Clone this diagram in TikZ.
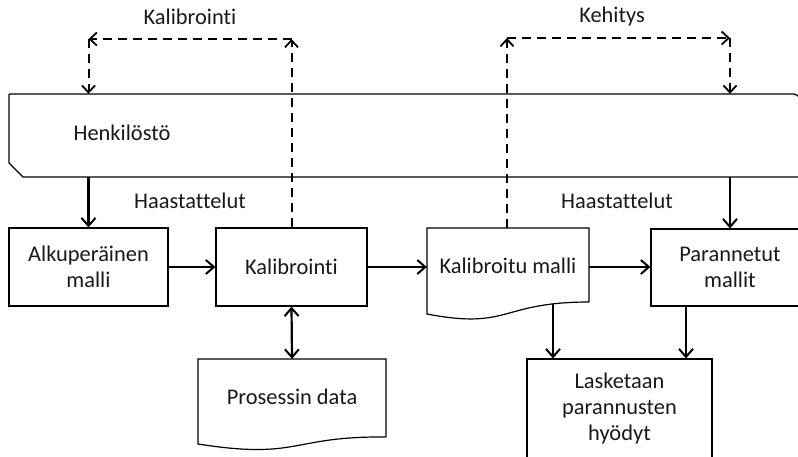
\documentclass[tikz,border=0pt]{standalone}
\usepackage{fontspec}
\setmainfont{Carlito}[Ligatures=NoCommon]
\usetikzlibrary{arrows.meta}
\begin{document}
\begin{tikzpicture}[x=1pt,y=-1pt,
  every node/.style={font=\fontsize{22.4}{26}\selectfont, text=black!90},
  box/.style={draw, line width=1.2pt, rectangle, inner sep=0pt, align=center},
  txt/.style={inner sep=0pt, align=center},
  flow/.style={line width=2.2pt, -{Straight Barb[length=8pt,width=14pt,line width=2pt]}},
  flowboth/.style={line width=2.2pt, {Straight Barb[length=8pt,width=14pt,line width=2pt]}-{Straight Barb[length=8pt,width=14pt,line width=2pt]}},
  dflow/.style={line width=2pt, dash pattern=on 9pt off 6pt, -{Straight Barb[length=7pt,width=13pt,line width=1.8pt]}},
  shapeline/.style={line width=1.2pt, line join=miter}
]
\clip (0,0) rectangle (798,456);
\fill[white] (0,0) rectangle (798,456);

% Henkilosto band
\draw[shapeline] (9,94) -- (794,94) .. controls (797,94) and (798,96) .. (800,99);
\draw[shapeline] (9,94) -- (9,163) -- (23,177) -- (815,177);
\node[inner sep=0pt, minimum width=801pt, minimum height=83pt] (henk) at (409.5,135.5) {};
\node[txt] (henktxt) at (122,133) {Henkilöstö};

% Boxes
\node[box, minimum width=159pt, minimum height=78pt] (alku) at (88.5,267) {Alkuperäinen\\malli};
\node[box, minimum width=151pt, minimum height=78pt] (kalib) at (291.5,267) {Kalibrointi};
\node[box, minimum width=158pt, minimum height=77pt] (par) at (730,267.5) {Parannetut\\mallit};
\node[box, minimum width=185pt, minimum height=112pt] (lask) at (619.5,415) {};
\node[txt] (lasktxt) at (619.5,409) {Lasketaan\\parannusten\\hyödyt};

% Document shapes
\draw[shapeline] (589,302) -- (589,228) -- (427,228) -- (427,314)
  .. controls (510,330) and (500,302) .. (589,302);
\node[inner sep=0pt, minimum width=162pt, minimum height=74pt] (kmal) at (508,265) {};
\node[txt] (kmaltxt) at (508,266) {Kalibroitu malli};

\draw[shapeline] (386,437) -- (386,359) -- (198,359) -- (198,444)
  .. controls (300,460) and (290,436) .. (386,437);
\node[inner sep=0pt, minimum width=188pt, minimum height=78pt] (data) at (292,398) {};
\node[txt] (datatxt) at (292,397) {Prosessin data};

% Labels
\node[txt] (l1) at (190,17) {Kalibrointi};
\node[txt] (l2) at (612,17) {Kehitys};
\node[txt] (l3) at (190,201) {Haastattelut};
\node[txt] (l4) at (617,201) {Haastattelut};

% Solid connectors
\draw[flow] (alku |- henk.south) -- (alku.north);
\draw[flow] (par |- henk.south) -- (par.north);
\draw[flow] (alku.east) -- (kalib.west);
\draw[flow] (kalib.east) -- (kmal.west |- kalib.east);
\draw[flow] (kmal.east |- kalib.east) -- (par.west |- kalib.east);
\draw[flowboth] (kalib.south) -- (data.north);
\coordinate (kd) at (553,304);
\draw[flow] (kd) -- (kd |- lask.north);
\draw[flow] ([xshift=-44pt]par.south) -- ([xshift=-44pt]par.south |- lask.north);

% Dashed connectors
\coordinate (c1) at (291.5,39);
\coordinate (c2) at (88.5,39);
\draw[dflow] (kalib.north) -- (c1);
\draw[dflow] (c1) -- (c2);
\draw[dflow] (c2) -- (alku |- henk.north);

\coordinate (c3) at (507,38);
\coordinate (c4) at (730,38);
\draw[dflow] (kmal.north -| c3) -- (c3);
\draw[dflow] (c3) -- (c4);
\draw[dflow] (c4) -- (par |- henk.north);
\end{tikzpicture}
\end{document}
